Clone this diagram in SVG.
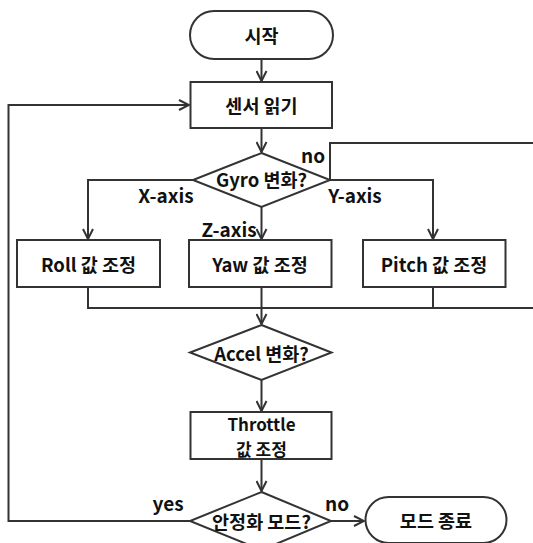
<svg xmlns="http://www.w3.org/2000/svg" width="533" height="543" viewBox="0 0 533 543">
  <style>
    .shape { fill: #ffffff; stroke: #333333; stroke-width: 2; }
    .line { fill: none; stroke: #333333; stroke-width: 2; }
    .label { font-family: "Noto Sans CJK KR", "Noto Sans", sans-serif; font-size: 18.5px; font-weight: 700; fill: #111111; text-anchor: middle; dominant-baseline: central; }
    .edge { font-size: 19px; }
    .two-line { font-size: 17px; }
  </style>
  <defs>
    <marker id="arrow" viewBox="0 0 12 12" refX="11" refY="6" markerWidth="12" markerHeight="12" markerUnits="userSpaceOnUse" orient="auto">
      <path d="M1,1 L11,6 L1,11" fill="none" stroke="#333333" stroke-width="2"/>
    </marker>
  </defs>
  <rect width="533" height="543" fill="#ffffff"/>

  <g id="connectors">
    <line class="line" x1="261.5" y1="59" x2="261.5" y2="81" marker-end="url(#arrow)"/>
    <line class="line" x1="261.5" y1="128" x2="261.5" y2="152" marker-end="url(#arrow)"/>
    <polyline class="line" points="193,180 88,180 88,239" marker-end="url(#arrow)"/>
    <polyline class="line" points="261.5,207 261.5,239" marker-end="url(#arrow)"/>
    <polyline class="line" points="330,180 433,180 433,239" marker-end="url(#arrow)"/>
    <polyline class="line" points="330,180 330,143 533,143"/>
    <polyline class="line" points="88,287 88,308 533,308"/>
    <line class="line" x1="433" y1="287" x2="433" y2="308"/>
    <line class="line" x1="261.5" y1="287" x2="261.5" y2="324" marker-end="url(#arrow)"/>
    <line class="line" x1="261.5" y1="380" x2="261.5" y2="411" marker-end="url(#arrow)"/>
    <line class="line" x1="261.5" y1="459" x2="261.5" y2="491" marker-end="url(#arrow)"/>
    <polyline class="line" points="190,521 8.5,521 8.5,105 189,105" marker-end="url(#arrow)"/>
    <line class="line" x1="331" y1="521" x2="364" y2="521" marker-end="url(#arrow)"/>
    <text class="label edge" x="166" y="194">X-axis</text>
    <text class="label edge" x="355" y="194">Y-axis</text>
    <text class="label edge" x="229" y="228">Z-axis</text>
    <text class="label edge" x="313" y="154">no</text>
    <text class="label edge" x="168" y="502">yes</text>
    <text class="label edge" x="337" y="502">no</text>
  </g>

  <g id="start">
    <rect class="shape" x="190" y="11" width="143" height="48" rx="24"/>
    <text class="label" x="261.5" y="35">시작</text>
  </g>
  <g id="read-sensor">
    <rect class="shape" x="190.5" y="82" width="141.5" height="46"/>
    <text class="label" x="261.5" y="105">센서 읽기</text>
  </g>
  <g id="gyro-check">
    <polygon class="shape" points="261.5,153 330,180 261.5,207 193,180"/>
    <text class="label" x="261.5" y="179">Gyro 변화?</text>
  </g>
  <g id="roll-adjust">
    <rect class="shape" x="17" y="240" width="143" height="47"/>
    <text class="label" x="88.5" y="263.5">Roll 값 조정</text>
  </g>
  <g id="yaw-adjust">
    <rect class="shape" x="189" y="240" width="142.5" height="47"/>
    <text class="label" x="260" y="263.5">Yaw 값 조정</text>
  </g>
  <g id="pitch-adjust">
    <rect class="shape" x="363" y="240" width="142.5" height="47"/>
    <text class="label" x="434" y="263.5">Pitch 값 조정</text>
  </g>
  <g id="accel-check">
    <polygon class="shape" points="261.5,325 331.5,352.5 261.5,380 190,352.5"/>
    <text class="label" x="261.5" y="352.5">Accel 변화?</text>
  </g>
  <g id="throttle-adjust">
    <rect class="shape" x="190.5" y="412" width="141" height="47"/>
    <text class="label two-line" x="261.5" y="423">Throttle</text>
    <text class="label two-line" x="261.5" y="448">값 조정</text>
  </g>
  <g id="stable-check">
    <polygon class="shape" points="261.5,492 331,521 261.5,550 190,521"/>
    <text class="label" x="261.5" y="521">안정화 모드?</text>
  </g>
  <g id="end">
    <rect class="shape" x="365.5" y="497" width="141" height="46" rx="23"/>
    <text class="label" x="436" y="520">모드 종료</text>
  </g>
</svg>
